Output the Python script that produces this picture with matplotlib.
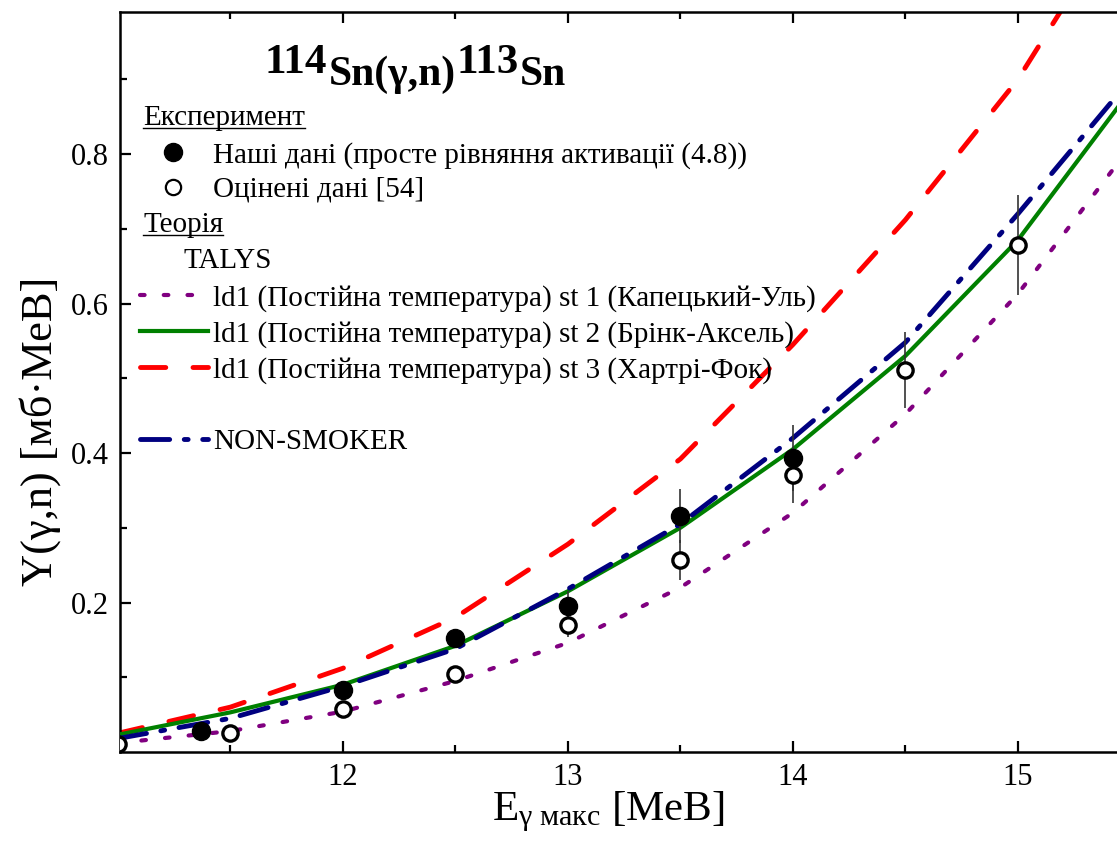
import matplotlib
matplotlib.use('Agg')
import matplotlib.pyplot as plt
from matplotlib.lines import Line2D
from matplotlib.ticker import MultipleLocator, FixedLocator

plt.rcParams['font.family'] = ['Liberation Serif', 'DejaVu Serif']
plt.rcParams['mathtext.fontset'] = 'custom'
plt.rcParams['mathtext.rm'] = 'Liberation Serif'
plt.rcParams['mathtext.it'] = 'Liberation Serif:italic'
plt.rcParams['mathtext.bf'] = 'Liberation Serif:bold'

# ---------------- data ----------------
exp_E = [11.37, 12.0, 12.5, 13.0, 13.5, 14.0]
exp_Y = [0.028, 0.083, 0.153, 0.195, 0.316, 0.393]
exp_err = [0.004, 0.008, 0.012, 0.021, 0.036, 0.044]

eval_E = [11.0, 11.5, 12.0, 12.5, 13.0, 13.5, 14.0, 14.5, 15.0]
eval_Y = [0.011, 0.026, 0.058, 0.105, 0.170, 0.257, 0.370, 0.511, 0.678]
eval_err = [0.003, 0.004, 0.006, 0.008, 0.016, 0.027, 0.037, 0.051, 0.067]

curve_E = [11.0, 11.5, 12.0, 12.5, 13.0, 13.5, 14.0, 14.5, 15.0, 15.5]
st1_Y = [0.012, 0.028, 0.054, 0.095, 0.146, 0.220, 0.320, 0.452, 0.613, 0.810]
st2_Y = [0.023, 0.053, 0.090, 0.142, 0.215, 0.300, 0.405, 0.530, 0.685, 0.885]
st3_Y = [0.025, 0.060, 0.112, 0.180, 0.278, 0.392, 0.545, 0.712, 0.900, 1.140]
nonsmoker_Y = [0.018, 0.045, 0.088, 0.138, 0.218, 0.305, 0.420, 0.548, 0.720, 0.900]

x_ticks = [12, 13, 14, 15]
y_ticks = [0.2, 0.4, 0.6, 0.8]

legend_exp = ["Наші дані (просте рівняння активації (4.8))", "Оцінені дані [54]"]
legend_th = ["ld1 (Постійна температура) st 1 (Капецький-Уль)",
             "ld1 (Постійна температура) st 2 (Брінк-Аксель)",
             "ld1 (Постійна температура) st 3 (Хартрі-Фок)",
             "NON-SMOKER"]

# ---------------- styles ----------------
W, H = 1117, 841
fig = plt.figure(figsize=(W / 100, H / 100), dpi=100)
ax_l, ax_r, ax_t, ax_b = 120, 1117, 12, 752
ax = fig.add_axes([ax_l / W, 1 - ax_b / H, (ax_r - ax_l) / W, (ax_b - ax_t) / H])

PURPLE = '#800080'
GREEN = '#008000'
RED = '#ff0000'
NAVY = '#000080'

st1_style = dict(color=PURPLE, lw=3.0, dashes=(1.1, 4.6), dash_capstyle='round')
st2_style = dict(color=GREEN, lw=3.0, ls='-')
st3_style = dict(color=RED, lw=3.5, dashes=(5.2, 5.6), dash_capstyle='round')
ns_style = dict(color=NAVY, lw=3.5, dashes=(6.0, 3.0, 0.8, 3.0), dash_capstyle='round')

ax.plot(curve_E, st1_Y, zorder=2, **st1_style)
ax.plot(curve_E, st3_Y, zorder=2, **st3_style)
ax.plot(curve_E, st2_Y, zorder=3, **st2_style)
ax.plot(curve_E, nonsmoker_Y, zorder=4, **ns_style)

ax.errorbar(eval_E, eval_Y, yerr=eval_err, fmt='none', ecolor='#333333', elinewidth=1.2, zorder=5)
ax.errorbar(exp_E, exp_Y, yerr=exp_err, fmt='none', ecolor='#333333', elinewidth=1.2, zorder=5)
ax.plot(eval_E, eval_Y, ls='none', marker='o', ms=11, mfc='white', mec='black', mew=2.4, zorder=6)
ax.plot(exp_E, exp_Y, ls='none', marker='o', ms=13, mfc='black', mec='black', zorder=7)

ax.set_xlim(11.01, 15.44)
ax.set_ylim(0.0, 0.99)
ax.xaxis.set_major_locator(FixedLocator(x_ticks))
ax.xaxis.set_minor_locator(MultipleLocator(0.5))
ax.yaxis.set_major_locator(FixedLocator(y_ticks))
ax.yaxis.set_minor_locator(FixedLocator([0.1, 0.3, 0.5, 0.7, 0.9]))
ax.tick_params(which='both', direction='in', top=True, right=False, width=1.6, labelsize=22)
ax.tick_params(which='major', length=8, pad=8)
ax.tick_params(which='minor', length=5)
ax.spines['right'].set_visible(False)
for s in ['left', 'bottom', 'top']:
    ax.spines[s].set_linewidth(1.8)

ax.set_xlabel(r"E$_{\mathregular{γ\ макс}}$ [МеВ]", fontsize=31)
ax.xaxis.set_label_coords((608 - ax_l) / (ax_r - ax_l), (ax_b - 790) / (ax_b - ax_t))
ax.xaxis.label.set_va('top')
ax.set_ylabel("Y(γ,n) [мб·МеВ]", fontsize=32)
ax.yaxis.set_label_coords((61 - ax_l) / (ax_r - ax_l), (ax_b - 431) / (ax_b - ax_t))

fig.canvas.draw()
renderer = fig.canvas.get_renderer()

# ---------------- title ----------------
x = 265
for s, size, base in [("114", 31, 73), ("Sn(γ,n)", 30, 85), ("113", 31, 73), ("Sn", 30, 85)]:
    t = fig.text(x / W, 1 - base / H, s, fontsize=size, fontweight='bold', ha='left', va='baseline')
    bb = t.get_window_extent(renderer)
    x = bb.x1 + 1

# ---------------- legend ----------------
LFS = 21

def px(xp, yp):
    return xp / W, 1 - yp / H

def header(text, xp, yp):
    t = fig.text(*px(xp, yp), text, fontsize=LFS, ha='left', va='center_baseline')
    bb = t.get_window_extent(renderer)
    yline = H - yp - 13
    fig.add_artist(Line2D([bb.x0, bb.x1], [yline, yline], transform=None, color='black', lw=1.0))

header("Експеримент", 143, 115)
fig.add_artist(Line2D([173 / W], [1 - 152 / H], transform=fig.transFigure, ls='none', marker='o',
                      ms=13, mfc='black', mec='black'))
fig.text(*px(213, 152), legend_exp[0], fontsize=LFS, ha='left', va='center_baseline')
fig.add_artist(Line2D([173 / W], [1 - 187 / H], transform=fig.transFigure, ls='none', marker='o',
                      ms=11, mfc='white', mec='black', mew=1.6))
fig.text(*px(213, 187), legend_exp[1], fontsize=LFS, ha='left', va='center_baseline')
header("Теорія", 143, 222)
fig.text(*px(183, 258), "TALYS", fontsize=LFS, ha='left', va='center_baseline')

rows = [(295, st1_style), (331, st2_style), (367, st3_style), (439, ns_style)]
for (yp, st), lab in zip(rows, legend_th):
    fig.add_artist(Line2D([140 / W, 208 / W], [1 - yp / H, 1 - yp / H], transform=fig.transFigure, **st))
    fig.text(*px(213, yp), lab, fontsize=LFS, ha='left', va='center_baseline')

fig.savefig('out.png', dpi=100)
